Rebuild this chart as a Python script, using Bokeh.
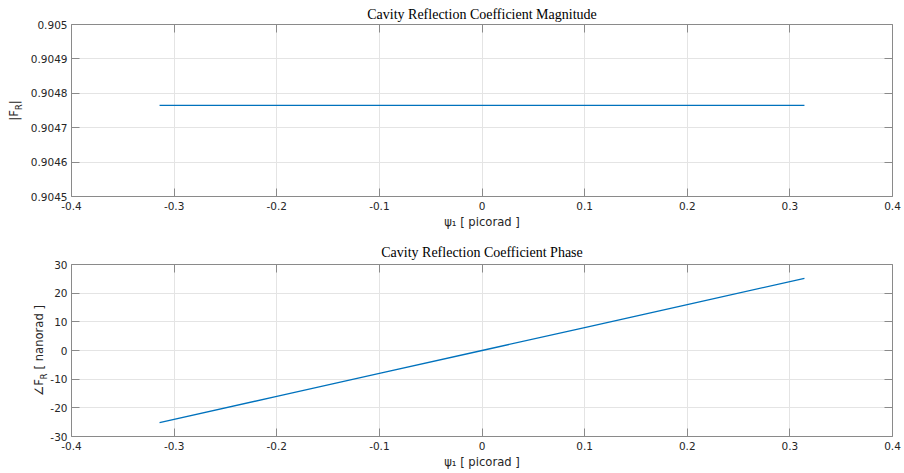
from bokeh.plotting import figure
from bokeh.models import (Range1d, LinearAxis, FixedTicker, CustomJSTickFormatter,
                          Title, ColumnDataSource)
from bokeh.layouts import column
from bokeh.embed import file_html
from bokeh.resources import INLINE

# ---------------- data ----------------
psi = [-0.3142, -0.2, -0.1, 0.0, 0.1, 0.2, 0.3142]            # picorad
magnitude = [0.904765, 0.904765, 0.904765, 0.904765, 0.904765, 0.904765, 0.904765]
phase = [-25.2, -16.0, -8.0, 0.0, 8.0, 16.0, 25.2]           # nanorad

x_ticks = [-0.4, -0.3, -0.2, -0.1, 0.0, 0.1, 0.2, 0.3, 0.4]
mag_ticks = [0.9045, 0.9046, 0.9047, 0.9048, 0.9049, 0.905]
phase_ticks = [-30, -20, -10, 0, 10, 20, 30]

title_top = "Cavity Reflection Coefficient Magnitude"
title_bottom = "Cavity Reflection Coefficient Phase"
xlabel = "ψ₁ [ picorad ]"
ylabel_top_main = "|F\u2002|"
ylabel_top_sub = "R"
ylabel_bot_main = "∠F\u2002 [ nanorad ]"
ylabel_bot_sub = "R"

# ---------------- style ----------------
LINE = "#0072BD"
TXT = "#262626"
AX = "#8a8a8a"
GRID = "#e4e4e4"
TICK_FONT = "10.5px"
LAB_FONT = "11.6px"
SUB_FONT = "8.2px"
SANS = "DejaVu Sans"


def style_axis(ax, labels=True):
    ax.axis_line_color = AX
    ax.major_tick_line_color = AX
    ax.major_tick_in = 8
    ax.major_tick_out = 0
    ax.minor_tick_in = 0
    ax.minor_tick_out = 0
    ax.minor_tick_line_color = None
    ax.major_label_text_color = TXT
    ax.major_label_text_font = SANS
    ax.major_label_text_font_size = TICK_FONT
    if not labels:
        ax.formatter = CustomJSTickFormatter(code="return ''")
        ax.major_label_text_font_size = "0px"
        ax.major_label_standoff = 0


def make_panel(height, top_border, bottom_border, y0, y1, yticks, yfmt):
    p = figure(width=904, height=height, x_range=Range1d(-0.4, 0.4),
               y_range=Range1d(y0, y1), output_backend="svg",
               toolbar_location=None, min_border_left=71, min_border_right=12,
               min_border_top=top_border, min_border_bottom=bottom_border)
    p.outline_line_color = None
    p.background_fill_color = "white"
    p.border_fill_color = "white"
    xa = p.xaxis[0]
    xa.ticker = FixedTicker(ticks=x_ticks)
    xa.formatter = CustomJSTickFormatter(code="return String(Math.round(tick*10)/10)")
    style_axis(xa)
    xa.major_label_standoff = 5
    xa.axis_label = xlabel
    xa.axis_label_text_font = SANS
    xa.axis_label_text_font_size = LAB_FONT
    xa.axis_label_text_font_style = "normal"
    xa.axis_label_text_color = TXT
    xa.axis_label_standoff = 2
    ya = p.yaxis[0]
    ya.ticker = FixedTicker(ticks=yticks)
    ya.formatter = CustomJSTickFormatter(code=yfmt)
    style_axis(ya)
    ya.major_label_standoff = 4
    top = LinearAxis(ticker=FixedTicker(ticks=x_ticks))
    style_axis(top, labels=False)
    p.add_layout(top, "above")
    right = LinearAxis(ticker=FixedTicker(ticks=yticks))
    style_axis(right, labels=False)
    p.add_layout(right, "right")
    p.xgrid.grid_line_color = GRID
    p.ygrid.grid_line_color = GRID
    return p


def add_title(p, text, place, size, font=SANS, color=TXT, align="center",
              valign="bottom", standoff=0.0, offset=0.0):
    p.add_layout(Title(text=text, align=align, vertical_align=valign,
                       text_font=font, text_font_size=size, text_font_style="normal",
                       text_color=color, standoff=standoff, offset=offset), place)


# ---------------- top panel ----------------
p1 = make_panel(236, 24, 40, 0.9045, 0.905, mag_ticks,
                "return String(Math.round(tick*10000)/10000)")
src1 = ColumnDataSource(dict(psi=psi, mag=magnitude))
p1.line(x="psi", y="mag", source=src1, line_color=LINE, line_width=1.3)
add_title(p1, title_top, "above", "14px", font="Liberation Serif", color="#000000",
          standoff=6)
add_title(p1, ylabel_top_sub, "left", SUB_FONT, align="left", standoff=6.8, offset=86.5)
add_title(p1, ylabel_top_main, "left", LAB_FONT, standoff=-24.6)

# ---------------- bottom panel ----------------
p2 = make_panel(237, 28, 37, -30, 30, phase_ticks, "return String(Math.round(tick))")
src2 = ColumnDataSource(dict(psi=psi, phase=phase))
p2.line(x="psi", y="phase", source=src2, line_color=LINE, line_width=1.3)
add_title(p2, title_bottom, "above", "14px", font="Liberation Serif", color="#000000",
          standoff=9)
add_title(p2, ylabel_bot_sub, "left", SUB_FONT, align="left", standoff=-2, offset=57.2)
add_title(p2, ylabel_bot_main, "left", LAB_FONT, standoff=-16.8)

layout = column(p1, p2)
open("out.html", "w").write(file_html(layout, INLINE))
